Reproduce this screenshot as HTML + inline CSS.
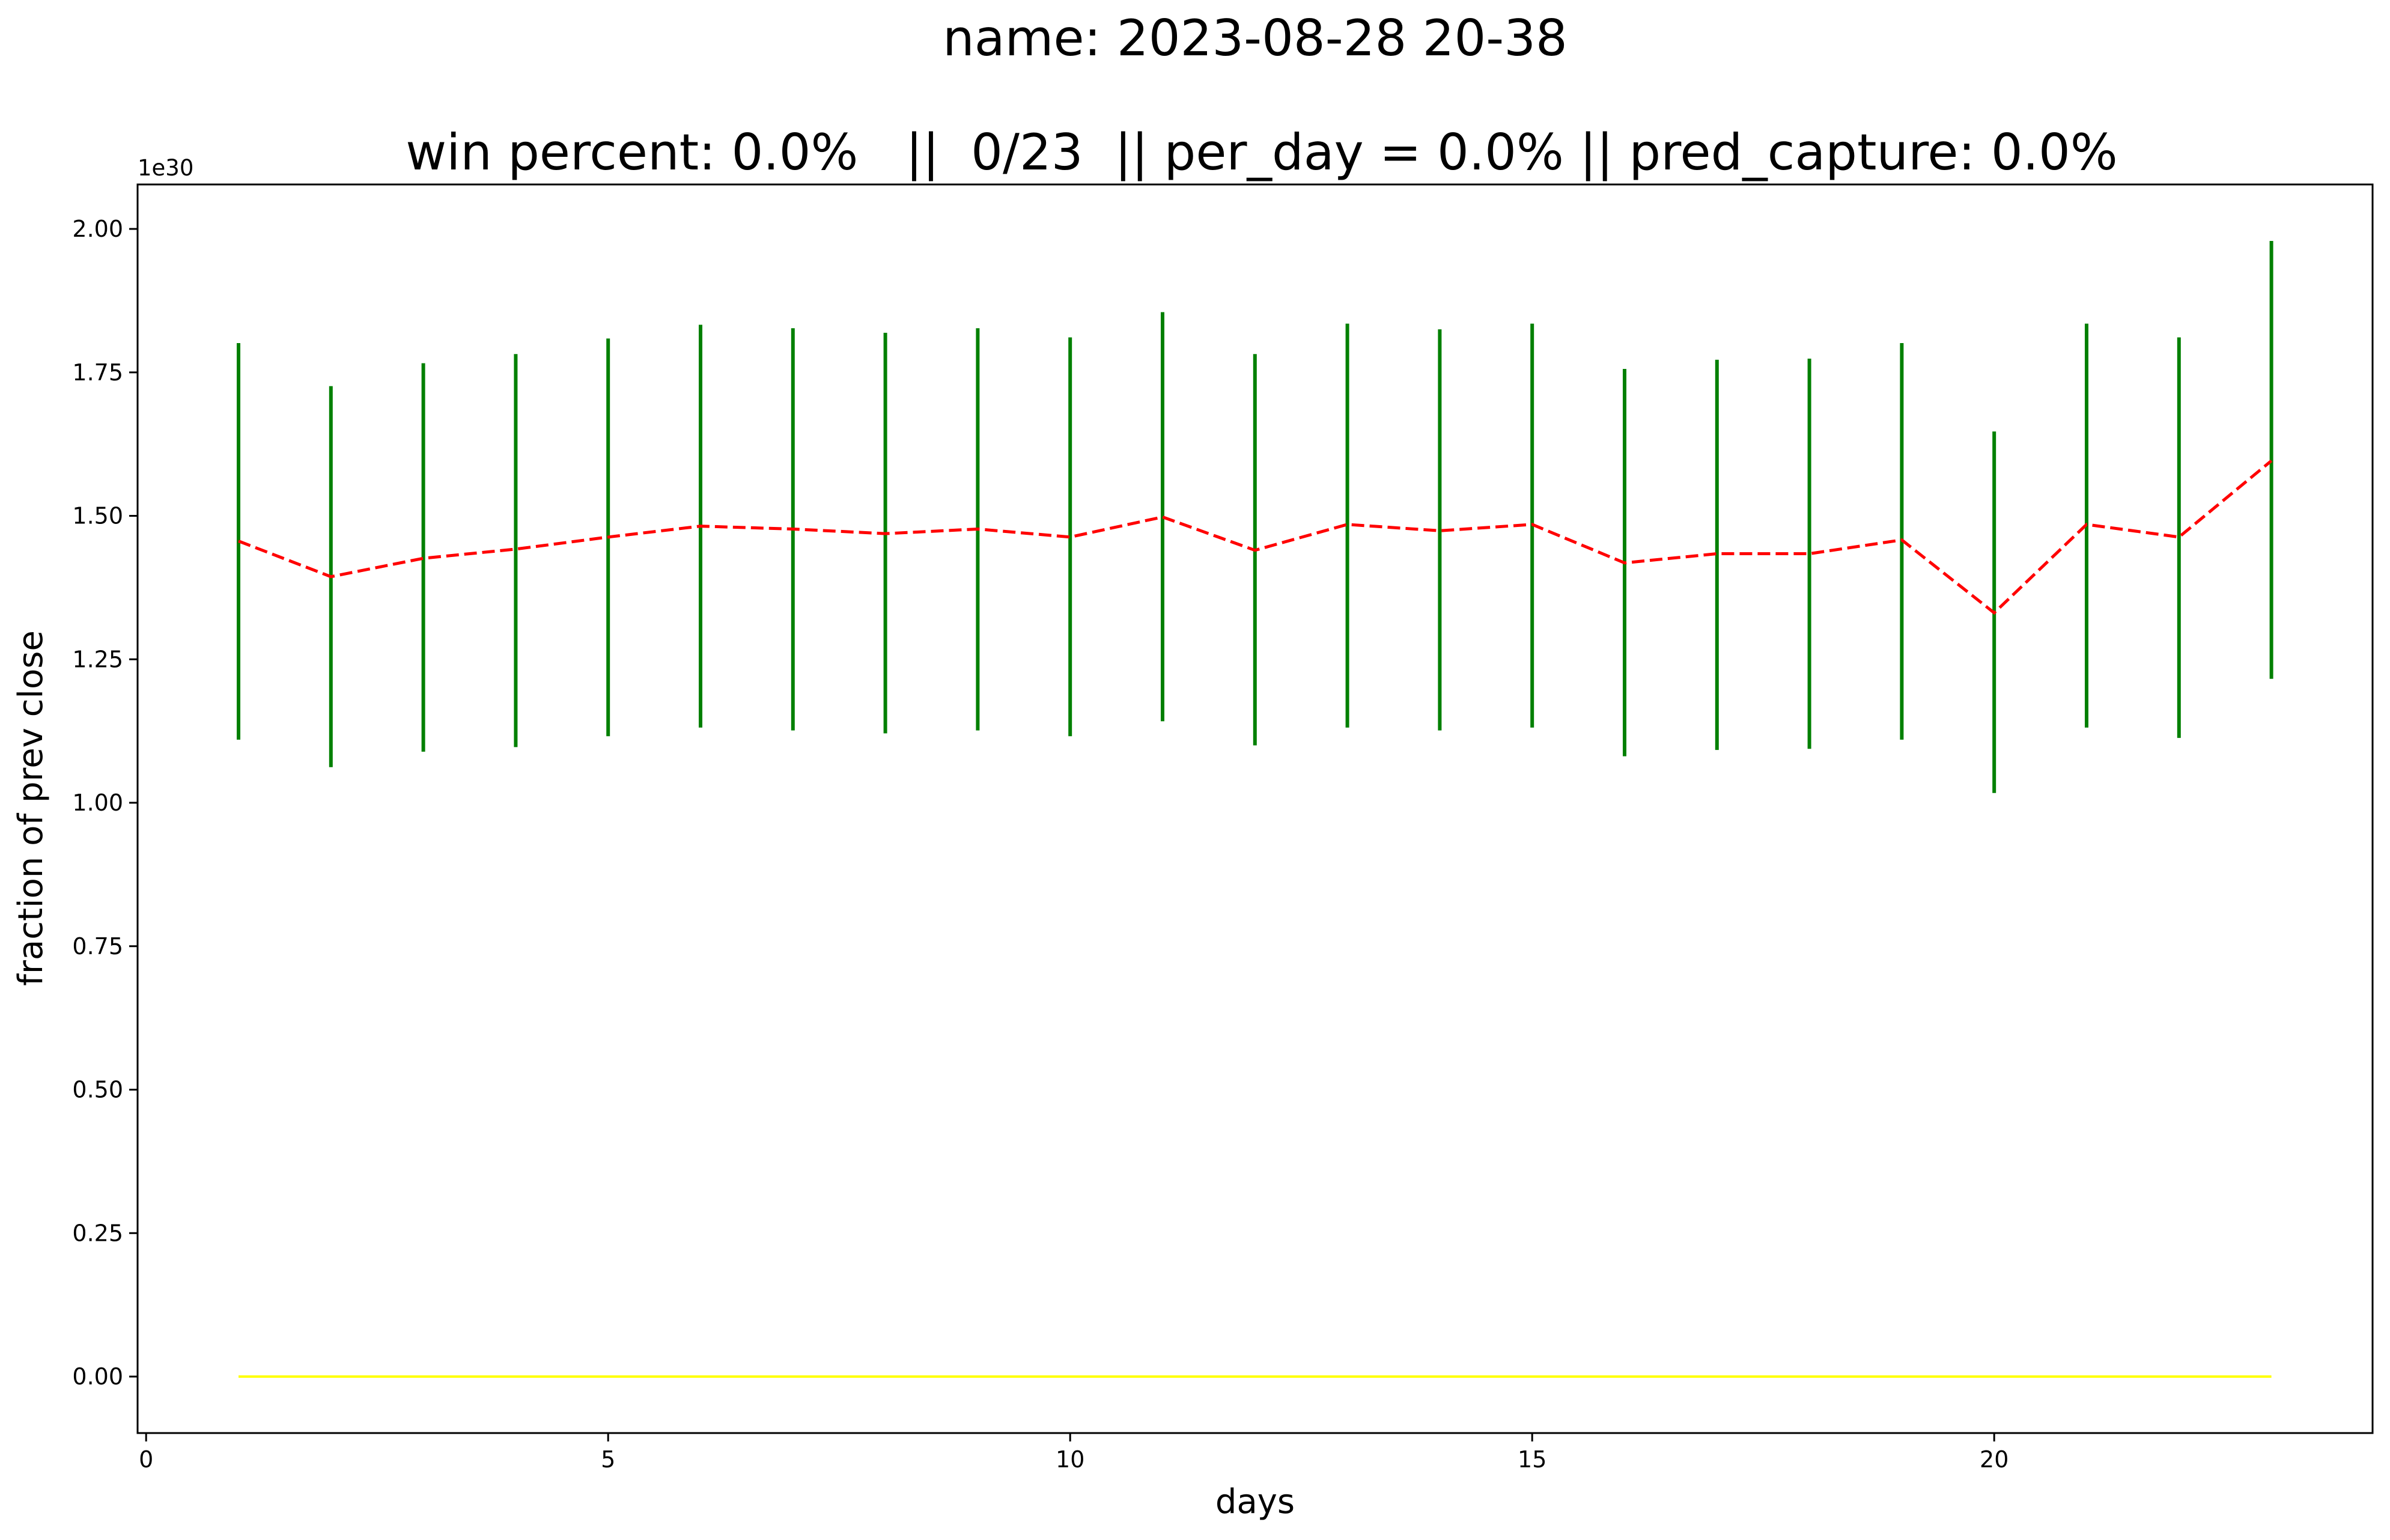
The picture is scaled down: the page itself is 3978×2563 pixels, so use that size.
<!DOCTYPE html>
<html><head><meta charset="utf-8"><style>
html,body{margin:0;padding:0;background:#fff;}
svg{display:block;font-family:"DejaVu Sans","Liberation Sans",sans-serif;}
text{white-space:pre;}
</style></head><body>
<svg id="chart" width="3978" height="2563" viewBox="0 0 3978 2563" xmlns="http://www.w3.org/2000/svg" xml:space="preserve">
<rect width="3978" height="2563" fill="#fff"/>
<text x="2089" y="92" font-size="83" text-anchor="middle">name: 2023-08-28 20-38</text>
<text x="2100" y="282" font-size="83" text-anchor="middle">win percent: 0.0%   ||  0/23  || per_day = 0.0% || pred_capture: 0.0%</text>
<text x="229" y="292" font-size="37">1e30</text>
<g id="grid"></g>
<g id="marks"></g>
<rect x="229" y="307" width="3720" height="2078" fill="none" stroke="#000" stroke-width="3"/>
<g id="ticks"></g>
<text x="2089" y="2518" font-size="56" text-anchor="middle">days</text>
<text transform="translate(70,1345) rotate(-90)" font-size="56" text-anchor="middle">fraction of prev close</text>
</svg>
<script>
const days = [1,2,3,4,5,6,7,8,9,10,11,12,13,14,15,16,17,18,19,20,21,22,23];
const mids = [1.456,1.394,1.426,1.442,1.463,1.482,1.477,1.469,1.477,1.463,1.498,1.440,1.485,1.474,1.485,1.418,1.434,1.434,1.458,1.331,1.485,1.463,1.596];
const highs = [1.801,1.726,1.766,1.782,1.809,1.833,1.827,1.819,1.827,1.811,1.855,1.782,1.835,1.825,1.835,1.756,1.772,1.774,1.801,1.647,1.835,1.811,1.979];
const lows = [1.110,1.062,1.089,1.097,1.116,1.131,1.126,1.121,1.126,1.116,1.142,1.100,1.131,1.126,1.131,1.081,1.092,1.094,1.110,1.017,1.131,1.113,1.216];
const actual = [0,0,0,0,0,0,0,0,0,0,0,0,0,0,0,0,0,0,0,0,0,0,0];
const xTicks = [0,5,10,15,20];
const yTicks = [0,0.25,0.5,0.75,1.0,1.25,1.5,1.75,2.0];
const yTickLabels = ["0.00","0.25","0.50","0.75","1.00","1.25","1.50","1.75","2.00"];

const NS = "http://www.w3.org/2000/svg";
function X(d){ return 243.2 + d*153.8; }
function Y(v){ return 2291 - v*955; }
function mk(tag, attrs, parent){
  const e = document.createElementNS(NS, tag);
  for (const k in attrs) e.setAttribute(k, attrs[k]);
  parent.appendChild(e);
  return e;
}
const marks = document.getElementById('marks');
const ticks = document.getElementById('ticks');

days.forEach((d,i)=>{
  const l = mk('line',{x1:X(d),x2:X(d),y1:Y(lows[i]),y2:Y(highs[i]),stroke:'#008000','stroke-width':6},marks);
  
  
});
const yl = mk('polyline',{points:days.map((d,i)=>X(d)+','+Y(actual[i])).join(' '),fill:'none',stroke:'#ffff00','stroke-width':4},marks);


const rl = mk('polyline',{points:days.map((d,i)=>X(d)+','+Y(mids[i])).join(' '),fill:'none',stroke:'#ff0000','stroke-width':5,'stroke-dasharray':'21 9'},marks);



xTicks.forEach(t=>{
  const tl = mk('line',{x1:X(t),x2:X(t),y1:2385,y2:2399,stroke:'#000','stroke-width':3},ticks);
  
  
  const tx = mk('text',{x:X(t),y:2442,'font-size':38,'text-anchor':'middle'},ticks);
  tx.textContent = String(t);
  
  
});
yTicks.forEach((t,i)=>{
  const tl = mk('line',{x1:215,x2:229,y1:Y(t),y2:Y(t),stroke:'#000','stroke-width':3},ticks);
  
  
  const tx = mk('text',{x:205,y:Y(t)+13,'font-size':38,'text-anchor':'end'},ticks);
  tx.textContent = yTickLabels[i];
  
  
});
</script>
</body></html>
